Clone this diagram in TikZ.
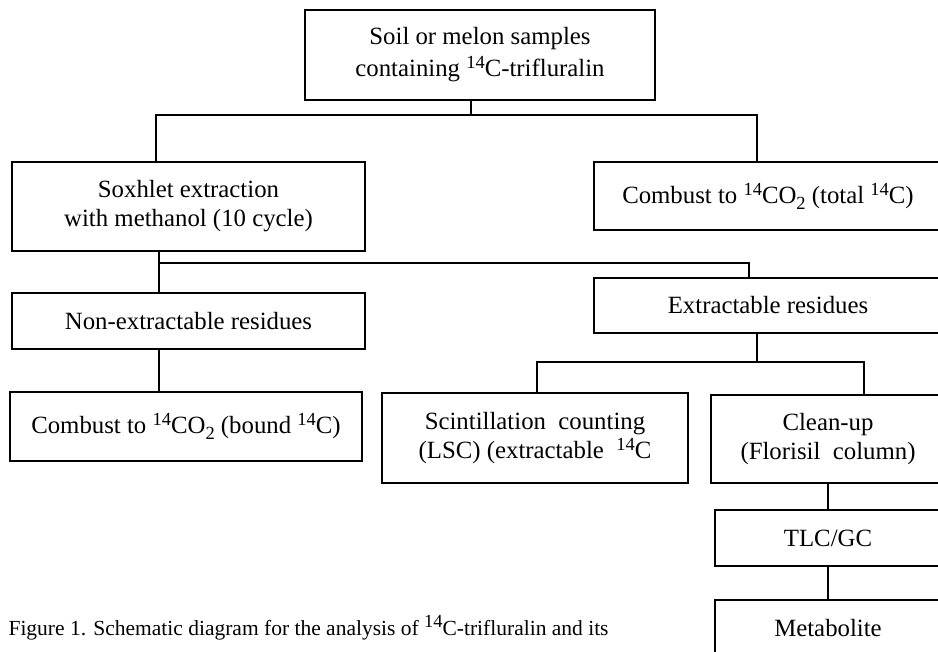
\documentclass[tikz,border=0pt]{standalone}
\usepackage{fontspec}
\setmainfont{Liberation Serif}
\usetikzlibrary{calc}

% isotope numbers and subscripts at a fixed size
\newcommand{\up}[1]{\raisebox{8pt}{\fontsize{18.5}{18.5}\selectfont #1}}
\newcommand{\dn}[1]{\raisebox{-6pt}{\fontsize{18.5}{18.5}\selectfont #1}}

\begin{document}
\begin{tikzpicture}[x=1pt, y=-1pt, line width=1.1pt,
    every node/.style={font=\fontsize{24.8}{29}\selectfont},
    box/.style={draw, align=center, inner sep=0pt}]
  \useasboundingbox (0,0) rectangle (938,652);
  \clip (0,0) rectangle (938,652);

  % --- boxes (the right column runs off the page) ---
  \node[box, minimum width=350pt, minimum height=90pt] (soil) at (480,55)
    {Soil or melon samples\\[3pt]containing \up{14}C-trifluralin};
  \node[box, minimum width=353pt, minimum height=89pt] (soxhlet) at (188.5,206.5)
    {Soxhlet extraction\\with methanol (10 cycle)};
  \node[box, minimum width=348pt, minimum height=68pt] (total) at (768,196)
    {Combust to \up{14}CO\dn{2} (total \up{14}C)};
  \node[box, minimum width=353pt, minimum height=56pt] (nonext) at (188.5,321)
    {Non-extractable residues};
  \node[box, minimum width=348pt, minimum height=55pt] (ext) at (768,305.5)
    {Extractable residues};
  \node[box, minimum width=352pt, minimum height=69pt] (bound) at (186,426.5)
    {Combust to \up{14}CO\dn{2} (bound \up{14}C)};
  \node[box, minimum width=306pt, minimum height=90pt] (lsc) at (535,438)
    {Scintillation\ \ counting\\(LSC) (extractable\ \ \up{14}C};
  \node[box, minimum width=234pt, minimum height=88pt] (clean) at (828,439)
    {Clean-up\\(Florisil\ \ column)};
  \node[box, minimum width=226pt, minimum height=56pt] (tlc) at (828,538)
    {TLC/GC};
  \node[box, minimum width=226pt, minimum height=56pt] (metab) at (828,628)
    {Metabolite};

  % --- branch points ---
  \coordinate (j1) at (471,115);
  \coordinate (b1l) at (156,115);
  \coordinate (b1r) at (757,115);
  \coordinate (b2l) at (159,263);
  \coordinate (b2r) at (749,263);
  \coordinate (j3) at (757,362);
  \coordinate (b3l) at (537,362);
  \coordinate (b3r) at (864,362);

  % --- connectors ---
  \draw (soil.south -| j1) -- (j1);
  \draw (soxhlet.north -| b1l) |- (b1r) -- (total.north -| b1r);
  \draw (soxhlet.south -| b2l) -- (nonext.north -| b2l);
  \draw (b2l) -- (b2r) -- (ext.north -| b2r);
  \draw (nonext.south -| b2l) -- (bound.north -| b2l);
  \draw (ext.south -| j3) -- (j3);
  \draw (lsc.north -| b3l) |- (b3r) -- (clean.north -| b3r);
  \draw (clean.south) -- (tlc.north);
  \draw (tlc.south) -- (metab.north);

  % --- caption ---
  \node[anchor=base west, inner sep=0pt, font=\fontsize{21.5}{26}\selectfont] (caption) at (8,635)
    {Figure 1. Schematic diagram for the analysis of \up{14}C-trifluralin and its};
\end{tikzpicture}
\end{document}
